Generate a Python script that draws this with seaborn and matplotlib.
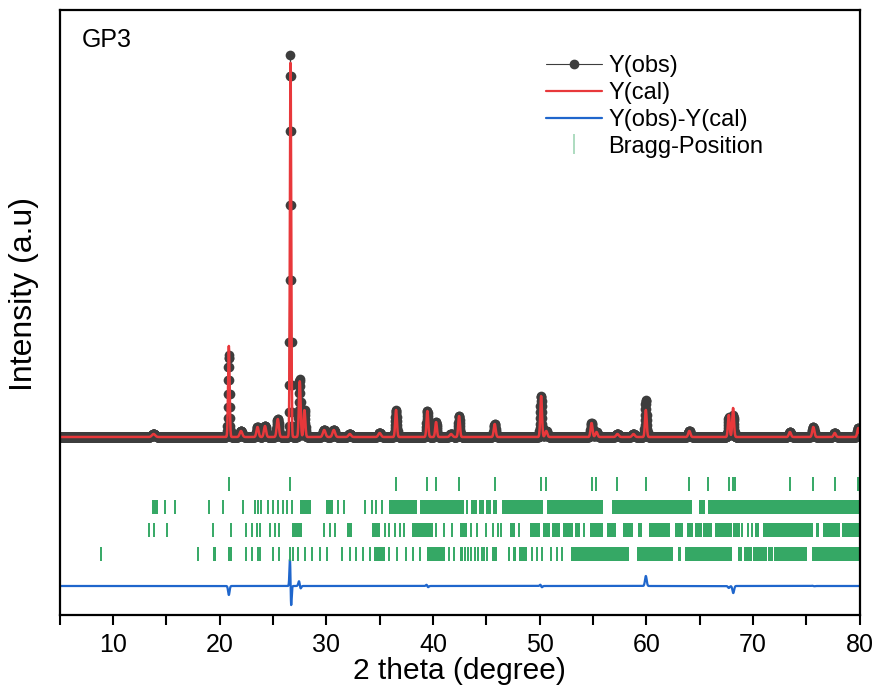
import numpy as np
import pandas as pd
import matplotlib
matplotlib.use("Agg")
import matplotlib.pyplot as plt
from matplotlib.lines import Line2D
from matplotlib.ticker import MultipleLocator
import seaborn as sns

# Pics observés (2theta, hauteur obs, hauteur calc, décalage calc, largeur)
peak_pos = [13.8, 20.86, 22.0, 23.55, 24.25, 25.45, 26.64, 27.5, 27.95, 29.8, 30.7,
            32.2, 35.0, 36.54, 39.47, 40.29, 41.7, 42.45, 45.79, 50.14, 50.62, 54.87,
            55.33, 57.3, 58.8, 59.96, 64.04, 67.74, 68.14, 73.47, 75.66, 77.67, 79.88]
obs_height = [3, 82, 6, 10, 11, 18, 382, 58, 27, 7, 7,
              3, 4, 27, 26, 15, 3, 21, 13, 41, 6, 14,
              5, 3, 3, 37, 6, 20, 22, 5, 10, 4, 9]
cal_height = [3, 91, 6, 10, 11, 18, 376, 56, 27, 7, 7,
              3, 4, 27, 26, 15, 3, 21, 13, 41, 6, 14,
              5, 3, 3, 27, 6, 22, 29, 5, 10, 4, 9]
cal_shift = [0, 0, 0, 0, 0, 0, 0.006, 0.008, 0, 0, 0,
             0, 0, 0, 0.006, 0, 0, 0, 0, 0.004, 0, 0,
             0, 0, 0, 0, 0, 0, 0.004, 0, 0.004, 0, 0]
peak_sigma = [0.15, 0.07, 0.12, 0.1, 0.1, 0.1, 0.06, 0.08, 0.08, 0.12, 0.12,
              0.12, 0.12, 0.08, 0.08, 0.08, 0.12, 0.08, 0.09, 0.08, 0.1, 0.09,
              0.1, 0.12, 0.12, 0.08, 0.1, 0.08, 0.08, 0.1, 0.1, 0.1, 0.09]

# Positions de Bragg (4 phases) : raies isolées + zones denses
bragg1_ticks = [20.86, 26.64, 36.54, 39.47, 40.29, 42.45, 45.79, 50.14, 50.62, 54.87,
                55.33, 57.24, 59.96, 64.04, 65.79, 67.74, 68.14, 68.32, 73.47, 75.66,
                77.67, 79.88]
bragg1_blocks = []

bragg2_ticks = [14.9, 15.8, 19.0, 20.3, 22.2, 23.3, 23.6, 23.9, 24.5, 25.0, 25.5, 25.9,
                26.3, 26.8, 31.1, 31.7, 33.6, 34.3, 34.7, 35.2]
bragg2_blocks = [(13.7, 14.2), (27.5, 28.6), (30.0, 30.6), (35.9, 38.5), (38.8, 42.9),
                 (43.1, 43.3), (43.6, 44.1), (44.3, 44.8), (45.0, 45.4), (45.6, 46.0),
                 (46.5, 50.3), (50.7, 55.9), (56.8, 64.3), (64.9, 65.5), (65.8, 80.0)]

bragg3_ticks = [13.4, 13.8, 15.1, 19.4, 21.1, 22.5, 23.0, 23.5, 23.75, 24.7, 25.2, 25.6,
                29.8, 30.3, 30.8, 35.5, 35.9, 36.4, 36.9, 37.3, 40.3, 41.0, 41.8, 43.6,
                44.1, 45.0, 45.6, 46.1, 46.4, 48.1, 54.2, 69.0, 69.5, 69.9]
bragg3_blocks = [(26.8, 27.7), (31.9, 32.4), (34.3, 35.0), (38.0, 40.0), (42.5, 43.2),
                 (47.2, 47.7), (49.1, 50.0), (50.3, 51.0), (51.2, 51.9), (52.2, 53.1),
                 (53.3, 53.8), (54.7, 55.9), (56.3, 57.2), (57.8, 58.8), (59.2, 59.6),
                 (60.3, 62.2), (62.7, 63.4), (63.8, 64.4), (64.6, 65.2), (65.3, 66.2),
                 (66.4, 68.0), (68.1, 68.8), (70.2, 70.6), (70.9, 75.6), (75.9, 76.2),
                 (76.6, 78.2), (78.4, 80.0)]

bragg4_ticks = [8.9, 18.0, 22.5, 23.0, 23.6, 23.75, 25.0, 25.6, 26.6, 26.85, 27.3, 28.0,
                28.7, 29.4, 30.1, 31.5, 32.2, 32.8, 33.4, 34.1, 35.9, 36.6, 37.5, 38.1,
                38.75, 41.5, 42.0, 43.0, 43.25, 43.6, 43.9, 44.2, 44.6, 44.8, 45.1,
                49.25, 49.8, 50.2, 51.1, 51.6, 52.1]
bragg4_blocks = [(19.4, 19.7), (20.8, 21.2), (34.5, 35.5), (39.4, 41.1), (42.5, 42.8),
                 (45.5, 46.0), (47.0, 47.2), (47.5, 47.8), (48.1, 48.8), (52.9, 58.4),
                 (59.1, 62.5), (63.0, 63.3), (63.6, 68.0), (68.6, 69.0), (69.2, 69.9),
                 (70.0, 71.3), (71.4, 71.9), (72.0, 75.1), (75.5, 80.0)]

bragg_rows = [(bragg1_ticks, bragg1_blocks), (bragg2_ticks, bragg2_blocks),
              (bragg3_ticks, bragg3_blocks), (bragg4_ticks, bragg4_blocks)]
bragg_levels = [-47, -70.5, -93.5, -117.5]
diff_offset = -149

# Profils
two_theta = np.arange(5, 80.001, 0.02)
y_obs = np.zeros_like(two_theta)
y_cal = np.zeros_like(two_theta)
for p, ho, hc, d, s in zip(peak_pos, obs_height, cal_height, cal_shift, peak_sigma):
    y_obs += ho * np.exp(-0.5 * ((two_theta - p) / s) ** 2)
    y_cal += hc * np.exp(-0.5 * ((two_theta - p - d) / s) ** 2)

df = pd.DataFrame({"2theta": two_theta, "obs": y_obs, "cal": y_cal,
                   "diff": y_obs - y_cal + diff_offset})

sns.set_theme(style="white")
plt.rcParams["font.family"] = ["Liberation Sans", "DejaVu Sans"]
plt.rcParams["text.color"] = "black"
plt.rcParams["axes.labelcolor"] = "black"
plt.rcParams["xtick.color"] = "black"

fig, ax = plt.subplots(figsize=(8.78, 6.91), dpi=100)
fig.subplots_adjust(left=0.068, right=0.979, bottom=0.110, top=0.9855)

c_obs = "#3d3d3d"
c_cal = "#e8383b"
c_diff = "#1f66cc"
c_bragg = "#35a865"

sns.lineplot(data=df, x="2theta", y="obs", ax=ax, color=c_obs, linewidth=0.8,
             marker="o", markersize=7, markeredgewidth=0, sort=False)
sns.lineplot(data=df, x="2theta", y="cal", ax=ax, color=c_cal, linewidth=1.8, sort=False)
sns.lineplot(data=df, x="2theta", y="diff", ax=ax, color=c_diff, linewidth=1.6, sort=False)

half = 7
for (ticks, blocks), lvl in zip(bragg_rows, bragg_levels):
    ax.vlines(ticks, lvl - half, lvl + half, color=c_bragg, linewidth=1.4)
    if blocks:
        ax.broken_barh([(a, b - a) for a, b in blocks], (lvl - half, 2 * half),
                       facecolor=c_bragg, edgecolor="none")

ax.set_xlim(5, 80)
ax.set_ylim(-178, 427)
ax.xaxis.set_major_locator(MultipleLocator(10))
ax.xaxis.set_minor_locator(MultipleLocator(5))
ax.tick_params(axis="x", which="both", bottom=True, direction="out",
               length=7, width=1.5, labelsize=18, pad=6)
ax.set_yticks([])
for sp in ax.spines.values():
    sp.set_linewidth(1.6)
    sp.set_color("black")

ax.set_xlabel("2 theta (degree)", fontsize=21.5, labelpad=0)
ax.set_ylabel("Intensity (a.u)", fontsize=23)
ax.yaxis.set_label_coords(-0.026, 0.53)
ax.text(0.027, 0.97, "GP3", transform=ax.transAxes, fontsize=18, va="top", ha="left")

handles = [
    Line2D([], [], color=c_obs, linewidth=0.8, marker="o", markersize=6),
    Line2D([], [], color=c_cal, linewidth=1.6),
    Line2D([], [], color=c_diff, linewidth=1.6),
    Line2D([], [], color="#9fd6b5", linestyle="none", marker="|", markersize=14,
           markeredgewidth=1.2),
]
labels = ["Y(obs)", "Y(cal)", "Y(obs)-Y(cal)", "Bragg-Position"]
ax.legend(handles, labels, loc="upper left", bbox_to_anchor=(0.581, 0.96),
          frameon=False, fontsize=17, handlelength=2.4, handletextpad=0.25,
          labelspacing=0.2)

plt.savefig("out.png", dpi=100)
plt.close()
